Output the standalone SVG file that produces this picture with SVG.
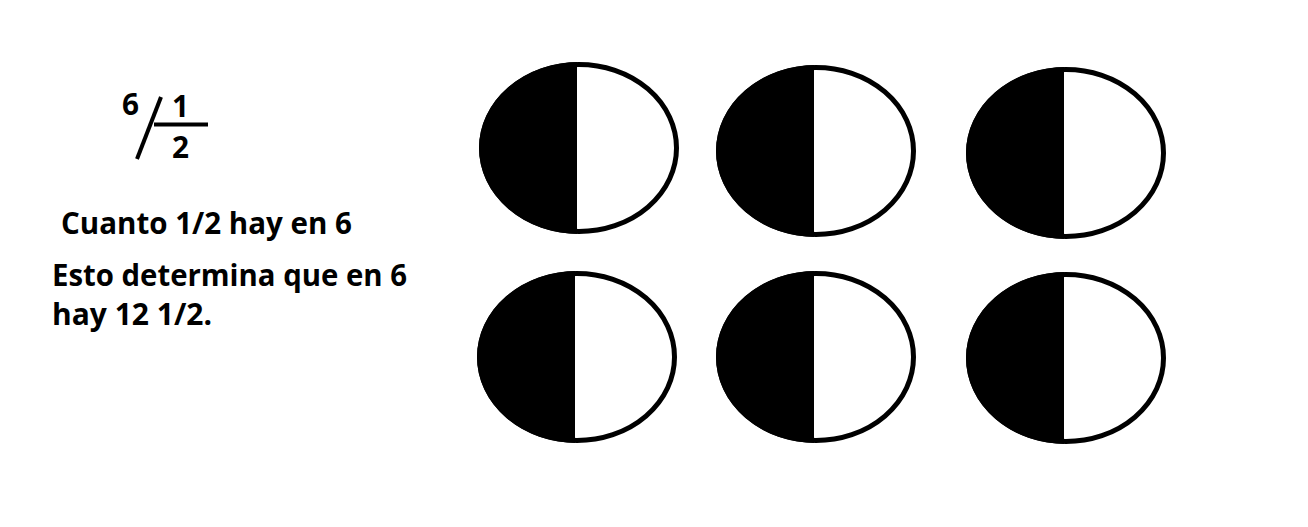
<svg xmlns="http://www.w3.org/2000/svg" xmlns:xlink="http://www.w3.org/1999/xlink" width="1308" height="527" viewBox="0 0 1308 527">
<style>
.t{font-family:"Open Sans",Lato,"Liberation Sans",sans-serif;font-weight:bold;fill:#000}
.big{font-size:31px}
.num{font-size:30px}
.ln{stroke:#000;stroke-width:4;stroke-linecap:butt;fill:none}
</style>
<defs>
<clipPath id="clip"><ellipse cx="0" cy="0" rx="100" ry="86"/></clipPath>
<g id="moon">
<ellipse cx="0" cy="0" rx="97.5" ry="83.5" fill="#fff" stroke="#000" stroke-width="5"/>
<rect x="-105" y="-92" width="103" height="184" fill="#000" clip-path="url(#clip)"/>
</g>
</defs>
<rect width="1308" height="527" fill="#fff"/>
<g id="fraction">
<text class="t num" x="122" y="115" textLength="17" lengthAdjust="spacingAndGlyphs">6</text>
<line class="ln" x1="137" y1="159" x2="161" y2="97"/>
<line class="ln" x1="154" y1="124.5" x2="208" y2="124.5"/>
<text class="t num" x="172" y="117" textLength="17" lengthAdjust="spacingAndGlyphs">1</text>
<text class="t num" x="172" y="158" textLength="17" lengthAdjust="spacingAndGlyphs">2</text>
</g>
<g id="text">
<text class="t big" x="61" y="234" textLength="291" lengthAdjust="spacingAndGlyphs">Cuanto 1/2 hay en 6</text>
<text class="t big" x="52" y="286" textLength="355" lengthAdjust="spacingAndGlyphs">Esto determina que en 6</text>
<text class="t big" x="52" y="325" textLength="160" lengthAdjust="spacingAndGlyphs">hay 12 1/2.</text>
</g>
<g id="moon1"><use xlink:href="#moon" transform="translate(579,148)"/></g>
<g id="moon2"><use xlink:href="#moon" transform="translate(816,151)"/></g>
<g id="moon3"><use xlink:href="#moon" transform="translate(1066,153)"/></g>
<g id="moon4"><use xlink:href="#moon" transform="translate(577,357)"/></g>
<g id="moon5"><use xlink:href="#moon" transform="translate(816,357)"/></g>
<g id="moon6"><use xlink:href="#moon" transform="translate(1066,358)"/></g>
</svg>
